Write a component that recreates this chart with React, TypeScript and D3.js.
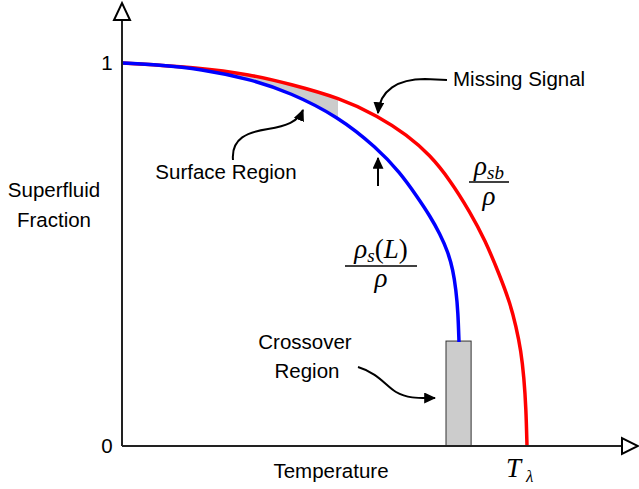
import React from "react";
import * as d3 from "d3";

// Reduced temperature T/Tλ and superfluid fraction for the bulk curve.
const bulkT = [0, 0.1926, 0.316, 0.4148, 0.5383, 0.6321, 0.7037, 0.7605, 0.8099, 0.8593, 0.8963, 0.9333, 0.958, 0.9728, 0.9852, 0.9926, 0.9975, 1];
const bulkF = [1, 0.9883, 0.97, 0.9452, 0.9086, 0.8616, 0.812, 0.7598, 0.6945, 0.611, 0.5379, 0.4439, 0.3734, 0.3133, 0.248, 0.1775, 0.0992, 0];

// Same quantities for the finite-size (film) curve.
const filmT = [0, 0.0938, 0.1926, 0.316, 0.4148, 0.5333, 0.6296, 0.6864, 0.7284, 0.7605, 0.7852, 0.8049, 0.8173, 0.8247, 0.8296, 0.8321];
const filmF = [1, 0.9948, 0.9843, 0.9582, 0.923, 0.8603, 0.7781, 0.7141, 0.6514, 0.6005, 0.5535, 0.5065, 0.4595, 0.4073, 0.3499, 0.2715];

// Shaded bands
const surfaceEndT = 0.5333;
const crossoverT = [0.8, 0.862];
const crossoverTop = 0.274;

const yTickLabels = ["0", "1"];
const yTickValues = [0, 1];

const W = 639;
const H = 489;

export default function App() {
  const x = d3.scaleLinear().domain([0, 1]).range([122, 527]);
  const y = d3.scaleLinear().domain([0, 1]).range([446, 63]);

  const bulk = bulkT.map((t, i) => [t, bulkF[i]] as [number, number]);
  const film = filmT.map((t, i) => [t, filmF[i]] as [number, number]);

  const line = d3
    .line<[number, number]>()
    .x((d) => x(d[0]))
    .y((d) => y(d[1]))
    .curve(d3.curveBasis);

  const area = d3
    .area<[number, number]>()
    .x((d) => x(d[0]))
    .y0(y(0))
    .y1((d) => y(d[1]))
    .curve(d3.curveBasis);

  const sans = "'Liberation Sans', Arial, Helvetica, sans-serif";
  const serif = "'Liberation Serif', 'Times New Roman', serif";
  const fs = 20.5;

  const axisColor = "#222";

  return (
    <svg
      width={W}
      height={H}
      viewBox={`0 0 ${W} ${H}`}
      style={{ position: "absolute", left: 0, top: 0, background: "#fff" }}
    >
      <defs>
        <clipPath id="surface-clip">
          <rect x={x(0)} y={0} width={x(surfaceEndT) - x(0)} height={H} />
        </clipPath>
        <marker
          id="head"
          viewBox="0 0 10 10"
          refX={9}
          refY={5}
          markerWidth={12}
          markerHeight={11}
          markerUnits="userSpaceOnUse"
          orient="auto"
          preserveAspectRatio="none"
        >
          <path d="M0,0 L10,5 L0,10 Z" fill="#000" />
        </marker>
      </defs>

      {/* surface region: band between bulk and film curves */}
      <g clipPath="url(#surface-clip)">
        <path d={area(bulk) ?? ""} fill="#cccccc" />
        <path d={area(film) ?? ""} fill="#fff" />
      </g>

      {/* crossover region */}
      <rect
        x={x(crossoverT[0])}
        y={y(crossoverTop)}
        width={x(crossoverT[1]) - x(crossoverT[0])}
        height={y(0) - y(crossoverTop)}
        fill="#cccccc"
        stroke="#333"
        strokeWidth={1}
      />

      {/* curves */}
      <path d={line(bulk) ?? ""} fill="none" stroke="#ff0000" strokeWidth={3.5} />
      <path d={line(film) ?? ""} fill="none" stroke="#0000ff" strokeWidth={3.5} />

      {/* axes */}
      <line x1={x(0)} y1={y(0)} x2={x(0)} y2={20} stroke={axisColor} strokeWidth={2} />
      <line x1={x(0)} y1={y(0)} x2={622} y2={y(0)} stroke={axisColor} strokeWidth={2} />
      <path
        d={`M${x(0) - 8},20 L${x(0) + 8},20 L${x(0)},3 Z`}
        fill="#fff"
        stroke="#000"
        strokeWidth={2}
        strokeLinejoin="miter"
      />
      <path
        d={`M622,${y(0) - 8} L622,${y(0) + 8} L638,${y(0)} Z`}
        fill="#fff"
        stroke="#000"
        strokeWidth={2}
        strokeLinejoin="miter"
      />

      {yTickValues.map((v, i) => (
        <text
          key={v}
          x={x(0) - 15}
          y={y(v) + 7}
          textAnchor="middle"
          fontFamily={sans}
          fontSize={fs}
          fill="#000"
        >
          {yTickLabels[i]}
        </text>
      ))}

      {/* axis titles */}
      <text x={54} y={197} textAnchor="middle" fontFamily={sans} fontSize={fs}>
        Superfluid
      </text>
      <text x={54} y={227} textAnchor="middle" fontFamily={sans} fontSize={fs}>
        Fraction
      </text>
      <text x={331} y={478} textAnchor="middle" fontFamily={sans} fontSize={fs}>
        Temperature
      </text>

      {/* Tλ */}
      <text x={506} y={477} fontFamily={serif} fontStyle="italic" fontSize={27}>
        T
      </text>
      <text x={526} y={482} fontFamily={serif} fontStyle="italic" fontSize={17}>
        λ
      </text>

      {/* annotations */}
      <text x={226} y={179} textAnchor="middle" fontFamily={sans} fontSize={fs}>
        Surface Region
      </text>
      <path
        d="M233,160 C231,138 248,132 268,129 C286,126 298,122 303,110"
        fill="none"
        stroke="#000"
        strokeWidth={2}
        markerEnd="url(#head)"
      />

      <text x={453} y={86} fontFamily={sans} fontSize={fs}>
        Missing Signal
      </text>
      <path
        d="M447,80 L425,79 C398,79 380,90 378,113"
        fill="none"
        stroke="#000"
        strokeWidth={2}
        markerEnd="url(#head)"
      />
      <path d="M378,186 L378,158" fill="none" stroke="#000" strokeWidth={2} markerEnd="url(#head)" />

      <text x={305} y={349} textAnchor="middle" fontFamily={sans} fontSize={fs}>
        Crossover
      </text>
      <text x={307} y={378} textAnchor="middle" fontFamily={sans} fontSize={fs}>
        Region
      </text>
      <path
        d="M358,367 C378,373 386,386 396,392 C408,399 420,398 435,398"
        fill="none"
        stroke="#000"
        strokeWidth={2}
        markerEnd="url(#head)"
      />

      {/* ρ_s(L)/ρ */}
      <g fontFamily={serif} fill="#000">
        <text x={381} y={258} textAnchor="middle" fontSize={27}>
          <tspan fontStyle="italic">ρ</tspan>
          <tspan fontStyle="italic" fontSize={19} dy={4}>s</tspan>
          <tspan dy={-4}>(</tspan>
          <tspan fontStyle="italic">L</tspan>
          <tspan>)</tspan>
        </text>
        <line x1={345} y1={266} x2={417} y2={266} stroke="#000" strokeWidth={1.5} />
        <text x={381} y={287} textAnchor="middle" fontSize={27} fontStyle="italic">
          ρ
        </text>

        {/* ρ_sb/ρ */}
        <text x={489} y={175} textAnchor="middle" fontSize={27}>
          <tspan fontStyle="italic">ρ</tspan>
          <tspan fontStyle="italic" fontSize={19} dy={4}>sb</tspan>
        </text>
        <line x1={469} y1={182} x2={509} y2={182} stroke="#000" strokeWidth={1.5} />
        <text x={489} y={205} textAnchor="middle" fontSize={27} fontStyle="italic">
          ρ
        </text>
      </g>
    </svg>
  );
}
